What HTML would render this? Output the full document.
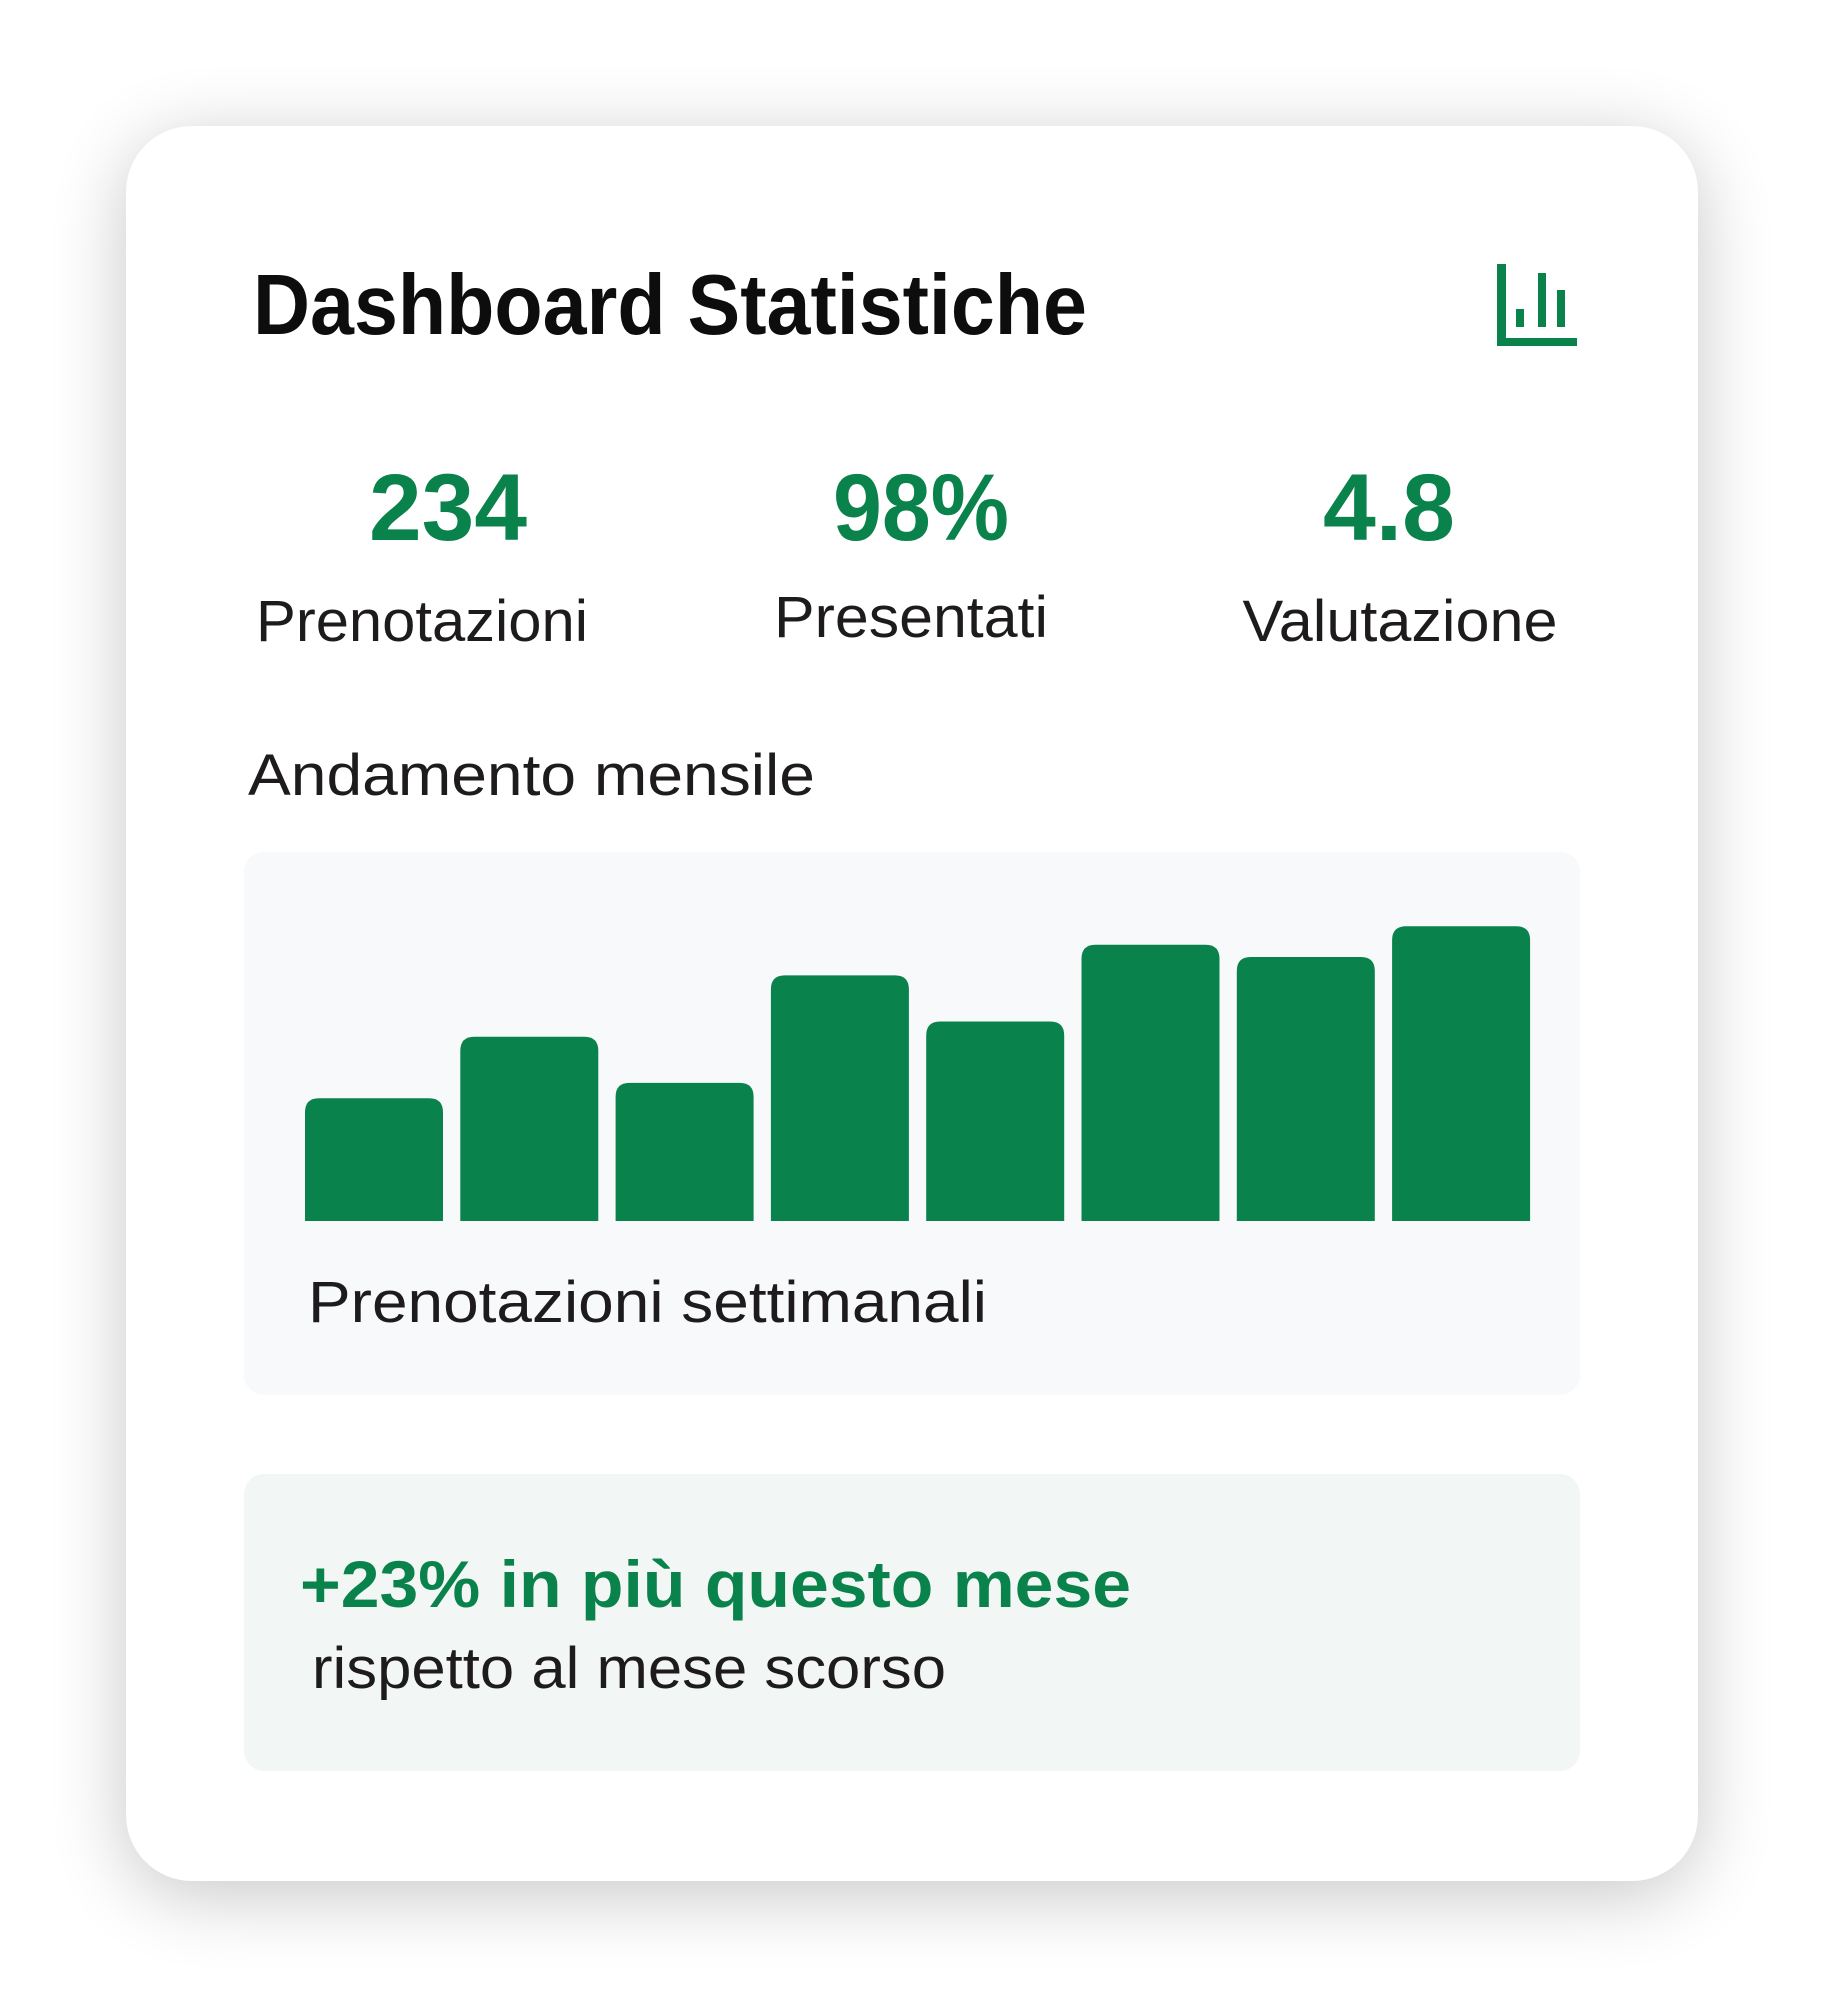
<!DOCTYPE html>
<html><head><meta charset="utf-8"><style>
html,body{margin:0;padding:0;background:#fff;}
svg{display:block;font-family:"Liberation Sans",Arial,sans-serif;}
</style></head><body>
<svg width="1823" height="2006" viewBox="0 0 1823 2006">
<defs>
<filter id="sh" x="-20%" y="-20%" width="140%" height="140%"><feGaussianBlur stdDeviation="38"/></filter>
</defs>
<rect x="126" y="140" width="1572" height="1755" rx="68" fill="#000" opacity="0.22" filter="url(#sh)"/>
<rect x="126" y="126" width="1572" height="1755" rx="66" fill="#fff"/>
<text x="253" y="334" font-size="85" font-weight="700" fill="#0d0d0d" textLength="834" lengthAdjust="spacingAndGlyphs">Dashboard Statistiche</text>
<g fill="#0a824b">
<rect x="1497" y="264" width="9" height="82"/>
<rect x="1497" y="338" width="80" height="8"/>
<rect x="1516" y="309" width="8" height="18"/>
<rect x="1538" y="273" width="8" height="54"/>
<rect x="1557" y="290" width="8" height="37"/>
</g>
<g text-anchor="middle">
<text x="448" y="540" font-size="95" font-weight="700" fill="#0a824b" textLength="158" lengthAdjust="spacingAndGlyphs">234</text>
<text x="921" y="540" font-size="95" font-weight="700" fill="#0a824b" textLength="176" lengthAdjust="spacingAndGlyphs">98%</text>
<text x="1389" y="540" font-size="95" font-weight="700" fill="#0a824b" textLength="132" lengthAdjust="spacingAndGlyphs">4.8</text>
<text x="422" y="641" font-size="58" fill="#1e1b1c" textLength="332" lengthAdjust="spacingAndGlyphs">Prenotazioni</text>
<text x="911" y="637" font-size="58" fill="#1e1b1c" textLength="274" lengthAdjust="spacingAndGlyphs">Presentati</text>
<text x="1400" y="641" font-size="58" fill="#1e1b1c" textLength="315" lengthAdjust="spacingAndGlyphs">Valutazione</text>
</g>
<text x="248" y="795" font-size="58" fill="#1e1b1c" textLength="567" lengthAdjust="spacingAndGlyphs">Andamento mensile</text>
<rect x="244" y="852" width="1336" height="543" rx="20" fill="#f8f9fb"/>
<g id="bars"></g>
<text x="308" y="1322" font-size="58" fill="#1e1b1c" textLength="679" lengthAdjust="spacingAndGlyphs">Prenotazioni settimanali</text>
<rect x="244" y="1474" width="1336" height="297" rx="20" fill="#f2f6f4"/>
<text x="300" y="1607" font-size="66" font-weight="700" fill="#0a824b" textLength="831" lengthAdjust="spacingAndGlyphs">+23% in più questo mese</text>
<text x="312" y="1688" font-size="58" fill="#1e1b1c" textLength="634" lengthAdjust="spacingAndGlyphs">rispetto al mese scorso</text>
</svg>
<script>
const weeks = ["S1","S2","S3","S4","S5","S6","S7","S8"];
const bookings = [40, 60, 45, 80, 65, 90, 86, 96];
const yMax = 100;
(function(){
  const g = document.getElementById('bars');
  const x0 = 305, pitch = 155.3, bw = 138, base = 1221, plotH = 307, r = 14;
  const yScale = v => plotH * v / yMax;
  bookings.forEach((v, i) => {
    const h = yScale(v), x = x0 + i * pitch, y = base - h;
    const p = document.createElementNS('http://www.w3.org/2000/svg', 'path');
    p.setAttribute('d', `M${x},${base} V${y + r} Q${x},${y} ${x + r},${y} H${x + bw - r} Q${x + bw},${y} ${x + bw},${y + r} V${base} Z`);
    p.setAttribute('fill', '#0a824b');
    
    
    g.appendChild(p);
  });
})();
</script>
</body></html>
